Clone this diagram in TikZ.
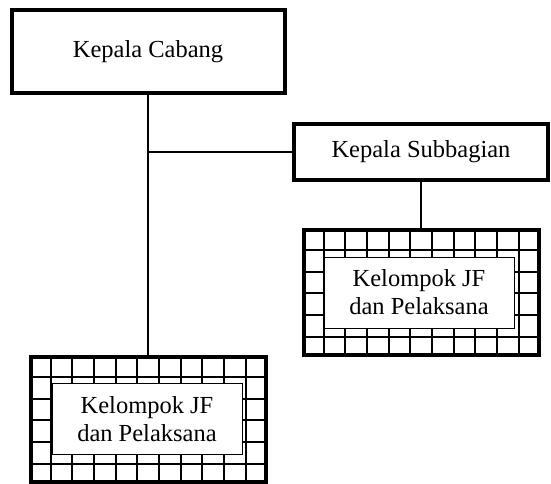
\documentclass[tikz,border=0pt]{standalone}
\usepackage{fontspec}
\setmainfont{Liberation Serif}
\usepackage{tikz}

\begin{document}
\begin{tikzpicture}[x=1pt,y=-1pt]
  \tikzset{unit/.style = {shape=rectangle,draw,line width=4pt,fill=white,
      font=\fontsize{24.5}{28}\selectfont}}
  \tikzset{gridline/.style = {draw=black,line width=2pt}}
  \tikzset{jfgroup/.style = {shape=rectangle,draw,line width=4pt,
      minimum width=235pt,minimum height=125pt,
      path picture={
        \foreach \i in {0,...,9}
          \draw[gridline] ([xshift={20pt+\i*21.7pt}]path picture bounding box.north west)
            -- ([xshift={20pt+\i*21.7pt}]path picture bounding box.south west);
        \foreach \j in {0,...,4}
          \draw[gridline] ([yshift={-20pt-\j*21.7pt}]path picture bounding box.north west)
            -- ([yshift={-20pt-\j*21.7pt}]path picture bounding box.north east);
      }}}
  \tikzset{jflabel/.style = {shape=rectangle,draw,line width=0.8pt,fill=white,
      minimum width=190pt,minimum height=71pt,align=center,
      font=\fontsize{24.5}{28}\selectfont}}
  \tikzset{link/.style = {line width=1.5pt}}

  \useasboundingbox (0,0) rectangle (551,483);

	\node[unit,minimum width=273pt,minimum height=83pt] (cabang) at (148,51.5) {Kepala Cabang};
	\node[unit,minimum width=254pt,minimum height=56pt] (subbag) at (421,152) {Kepala Subbagian};

	\node[jfgroup] (jfkiri) at (148,419.5) {};
	\node[jflabel] (jfkirilabel) at (147,419) {Kelompok JF\\dan Pelaksana};

	\node[jfgroup] (jfkanan) at (421,292.5) {};
	\node[jflabel] (jfkananlabel) at (419,292.5) {Kelompok JF\\dan Pelaksana};

	\coordinate (cabjoint) at (148,152);

	\draw[link] (cabang.south) -- (jfkiri.north);
	\draw[link] (cabjoint) -- (subbag.west);
	\draw[link] (subbag.south) -- (jfkanan.north);
\end{tikzpicture}
\end{document}
